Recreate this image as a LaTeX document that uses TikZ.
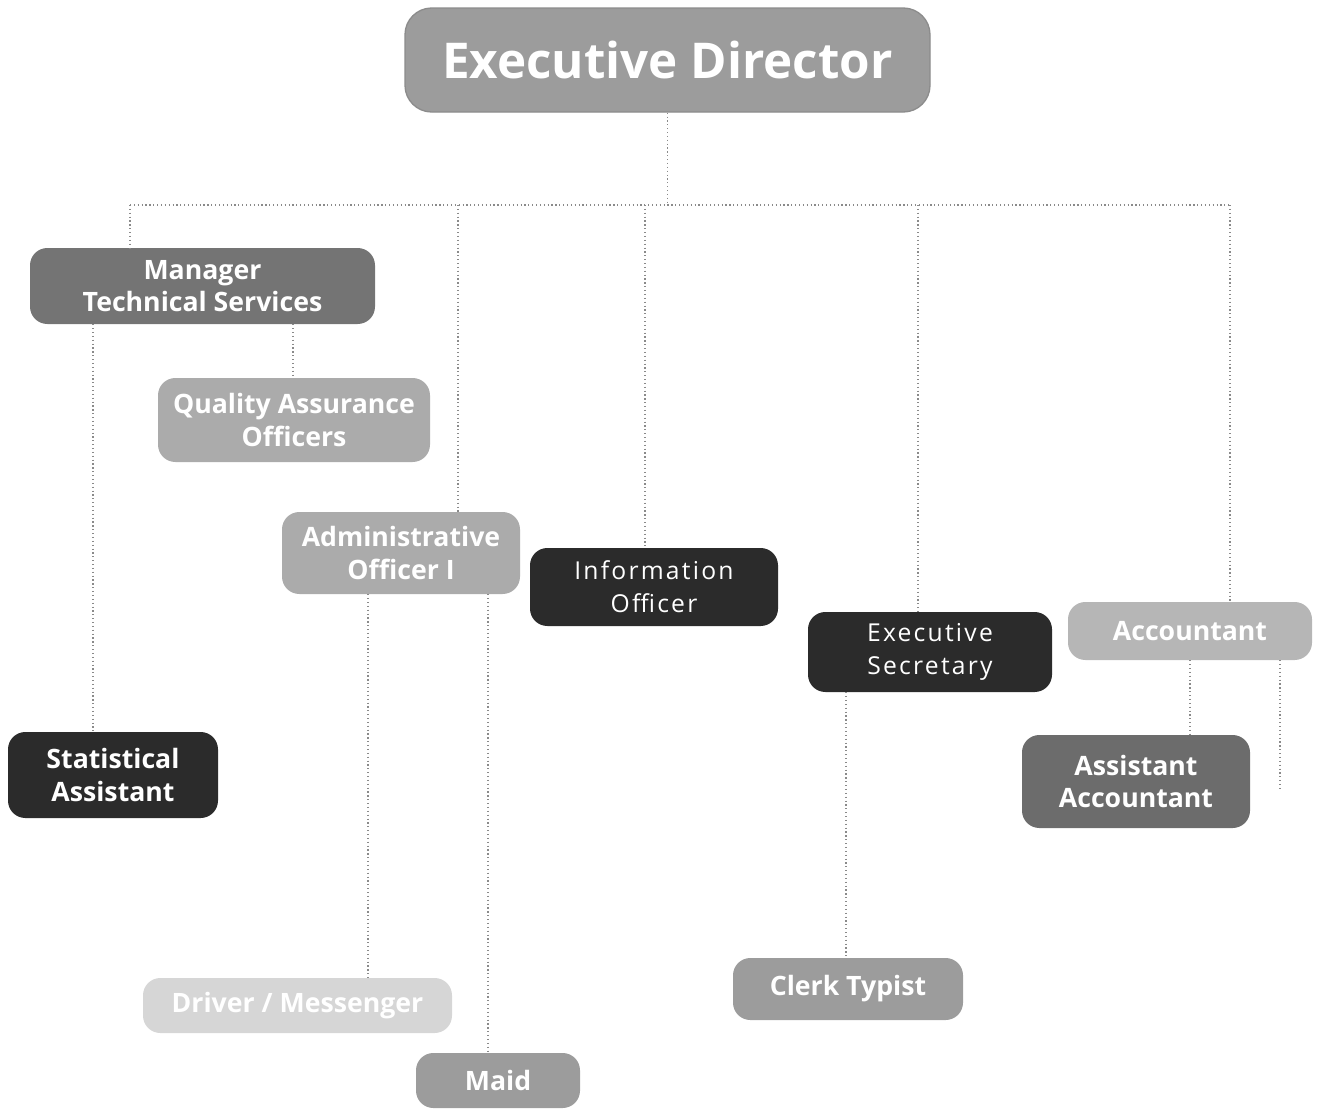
\documentclass[tikz,border=0pt]{standalone}
\usepackage{fontspec}
\setmainfont{Open Sans}
\usepackage{tikz}
\usetikzlibrary{positioning}

\definecolor{edgray}{HTML}{9C9C9C}
\definecolor{mtsgray}{HTML}{747474}
\definecolor{ltgray}{HTML}{ABABAB}
\definecolor{darkbox}{HTML}{2B2B2B}
\definecolor{aagray}{HTML}{6C6C6C}
\definecolor{accgray}{HTML}{B6B6B6}
\definecolor{dmgray}{HTML}{D6D6D6}
\definecolor{linkgray}{HTML}{8A8A8A}

\tikzset{
  post/.style={rounded corners=13pt, inner sep=0pt, align=center, text=white,
    font=\fontsize{20}{24.5}\selectfont\bfseries},
  sz/.style 2 args={minimum width=#1*0.75pt, minimum height=#2*0.75pt},
  plain/.style={font=\fontsize{18.5}{24.5}\selectfont\addfontfeature{LetterSpace=9}},
  link/.style={draw=linkgray, dotted, line width=0.9pt}
}

\begin{document}
\begin{tikzpicture}[x=0.75pt,y=0.75pt,yscale=-1,xscale=1]
\useasboundingbox (0,0) rectangle (1317,1110);

% Node
\node[post, fill=edgray, draw=black!45, line width=1pt, sz={525}{104}, rounded corners=20pt,
  font=\fontsize{37}{40}\selectfont\bfseries] (ed) at (667.5,60) {Executive Director};
% Node
\node[post, fill=mtsgray, sz={345}{76}] (mts) at (202.5,286) {Manager\\Technical Services};
% Node
\node[post, fill=ltgray, sz={272}{84}] (qa) at (294,420) {Quality Assurance\\Officers};
% Node
\node[post, fill=ltgray, sz={238}{82}] (ao) at (401,553) {Administrative\\Officer I};
% Node
\node[post, plain, fill=darkbox, sz={248}{78}] (io) at (654,587) {Information\\Officer};
% Node
\node[post, plain, fill=darkbox, sz={244}{80}] (es) at (930,652) {Executive\\Secretary};
% Node
\node[post, fill=accgray, sz={244}{58}] (acc) at (1190,631) {Accountant};
% Node
\node[post, fill=aagray, sz={228}{93}] (aa) at (1136,781.5) {Assistant\\Accountant};
% Node
\node[post, fill=darkbox, sz={210}{86}] (sa) at (113,775) {Statistical\\Assistant};
% Node
\node[post, fill=dmgray, sz={309}{55}] (dm) at (297.5,1005.5) {Driver / Messenger};
% Node
\node[post, fill=edgray, sz={230}{62}] (ct) at (848,989) {Clerk Typist};
% Node
\node[post, fill=edgray, sz={164}{55}] (maid) at (498,1080.5) {Maid};

% Bus
\coordinate (busL) at (130,205);
\coordinate (busR) at (1230,205);
\coordinate (accEnd) at (1280,790);

% Connection
\draw[link] (busL) -- (busR);
\draw[link] (ed.south) -- (ed.south |- busL);
% Connection
\draw[link] (busL) -- (busL |- mts.north);
\draw[link] (458,0 |- busL) -- (458,0 |- ao.north);
\draw[link] (645,0 |- busL) -- (645,0 |- io.north);
\draw[link] (918,0 |- busL) -- (918,0 |- es.north);
\draw[link] (busR) -- (busR |- acc.north);
% Connection
\draw[link] (93,0 |- mts.south) -- (93,0 |- sa.north);
\draw[link] (293,0 |- mts.south) -- (293,0 |- qa.north);
% Connection
\draw[link] (368,0 |- ao.south) -- (368,0 |- dm.north);
\draw[link] (488,0 |- ao.south) -- (488,0 |- maid.north);
% Connection
\draw[link] (846,0 |- es.south) -- (846,0 |- ct.north);
% Connection
\draw[link] (1190,0 |- acc.south) -- (1190,0 |- aa.north);
\draw[link] (accEnd |- acc.south) -- (accEnd);

\end{tikzpicture}
\end{document}
